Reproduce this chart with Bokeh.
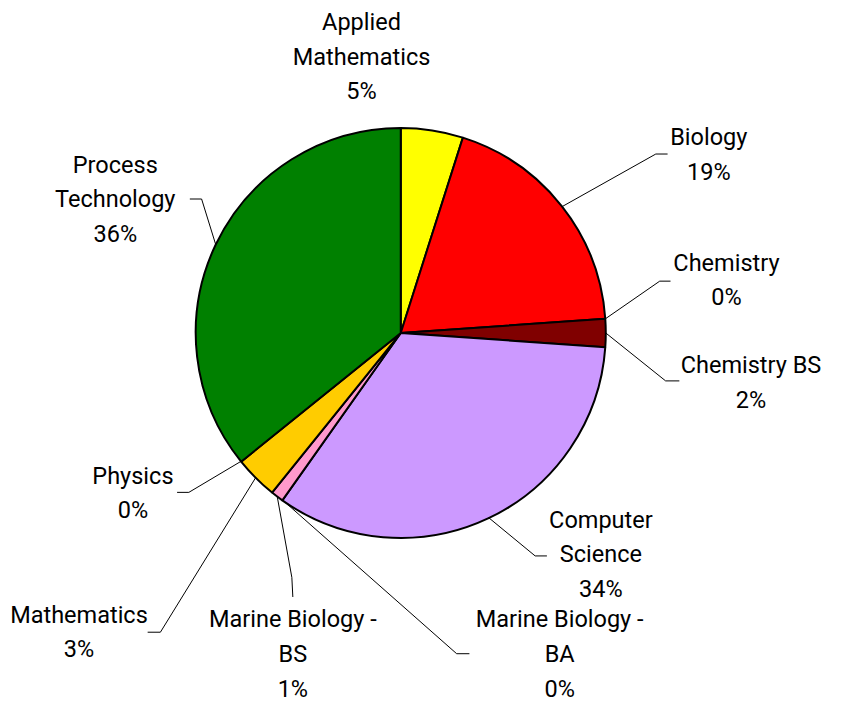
import numpy as np
from bokeh.plotting import figure
from bokeh.models import Range1d, ColumnDataSource
from bokeh.core.properties import value
from bokeh.embed import file_html
from bokeh.resources import INLINE

# ---- data ----
categories = ["Applied Mathematics", "Biology", "Chemistry", "Chemistry BS",
              "Computer Science", "Marine Biology - BA", "Marine Biology - BS",
              "Mathematics", "Physics", "Process Technology"]
shares = [4.9, 19.0, 0.0, 2.2, 33.7, 0.0, 1.0, 3.4, 0.0, 35.8]
colors = ["#FFFF00", "#FF0000", "#FF00FF", "#800000", "#CC99FF",
          "#99CCFF", "#FF99CC", "#FFCC00", "#33CCCC", "#008000"]
label_lines = [["Applied", "Mathematics"], ["Biology"], ["Chemistry"], ["Chemistry BS"],
               ["Computer", "Science"], ["Marine Biology -", "BA"], ["Marine Biology -", "BS"],
               ["Mathematics"], ["Physics"], ["Process", "Technology"]]

# ---- layout (reference-pixel coordinates, 842 x 723 canvas) ----
W, H = 826, 707
RW, RH = 842, 723
CX, CY, R = 408, 340, 209
label_x = [368, 722, 740, 765, 612, 570, 298, 80, 135, 117]
label_y0 = [22, 140, 268, 373, 531, 633, 633, 628, 486, 168]
line_gap = 35.5
elbows = [None, (668, 157), (672, 287), (678, 389), (545, 568), (465, 668),
          (297, 590), (163, 646), (192, 503), (205, 203)]
tails = [None, (680, 157), (683, 287), (692, 389), (557, 568), (478, 668),
         (298, 610), (150, 646), (180, 503), (193, 203)]
FONT = "Roboto"
FS = f"{24 * W / RW:.1f}px"

p = figure(width=W, height=H, output_backend="svg", toolbar_location=None,
           x_range=Range1d(0, RW), y_range=Range1d(-RH, 0),
           min_border=0, outline_line_color=None)
p.axis.visible = False
p.grid.visible = False
p.background_fill_color = "white"

total = float(sum(shares))
frac = np.array(shares) / total
cum = np.concatenate([[0.0], np.cumsum(frac)])
start = np.pi / 2 - 2 * np.pi * cum[1:]
end = np.pi / 2 - 2 * np.pi * cum[:-1]
mid = (start + end) / 2

keep = [i for i, s in enumerate(shares) if s > 0]
src = ColumnDataSource(dict(
    start=[start[i] for i in keep], end=[end[i] for i in keep],
    color=[colors[i] for i in keep]))
p.wedge(x=CX, y=-CY, radius=R, start_angle="start", end_angle="end",
        direction="anticlock", fill_color="color", line_color="black",
        line_width=2, source=src)

# leader lines
xs, ys = [], []
for i in range(len(categories)):
    if elbows[i] is None:
        continue
    sx = CX + R * np.cos(mid[i])
    sy = CY - R * np.sin(mid[i])
    ex, ey = elbows[i]
    tx, ty = tails[i]
    xs.append([sx, ex, tx])
    ys.append([-sy, -ey, -ty])
p.multi_line(xs, ys, line_color="black", line_width=1)

# labels
tx_, ty_, tt = [], [], []
for i in range(len(categories)):
    lines = label_lines[i] + [f"{round(frac[i] * 100):.0f}%"]
    for k, t in enumerate(lines):
        tx_.append(label_x[i])
        ty_.append(-(label_y0[i] + k * line_gap))
        tt.append(t)
p.text(x=tx_, y=ty_, text=tt, text_align="center", text_baseline="middle",
       text_font=value(FONT), text_font_size=FS, text_color="black")

open("out.html", "w").write(file_html(p, INLINE))
